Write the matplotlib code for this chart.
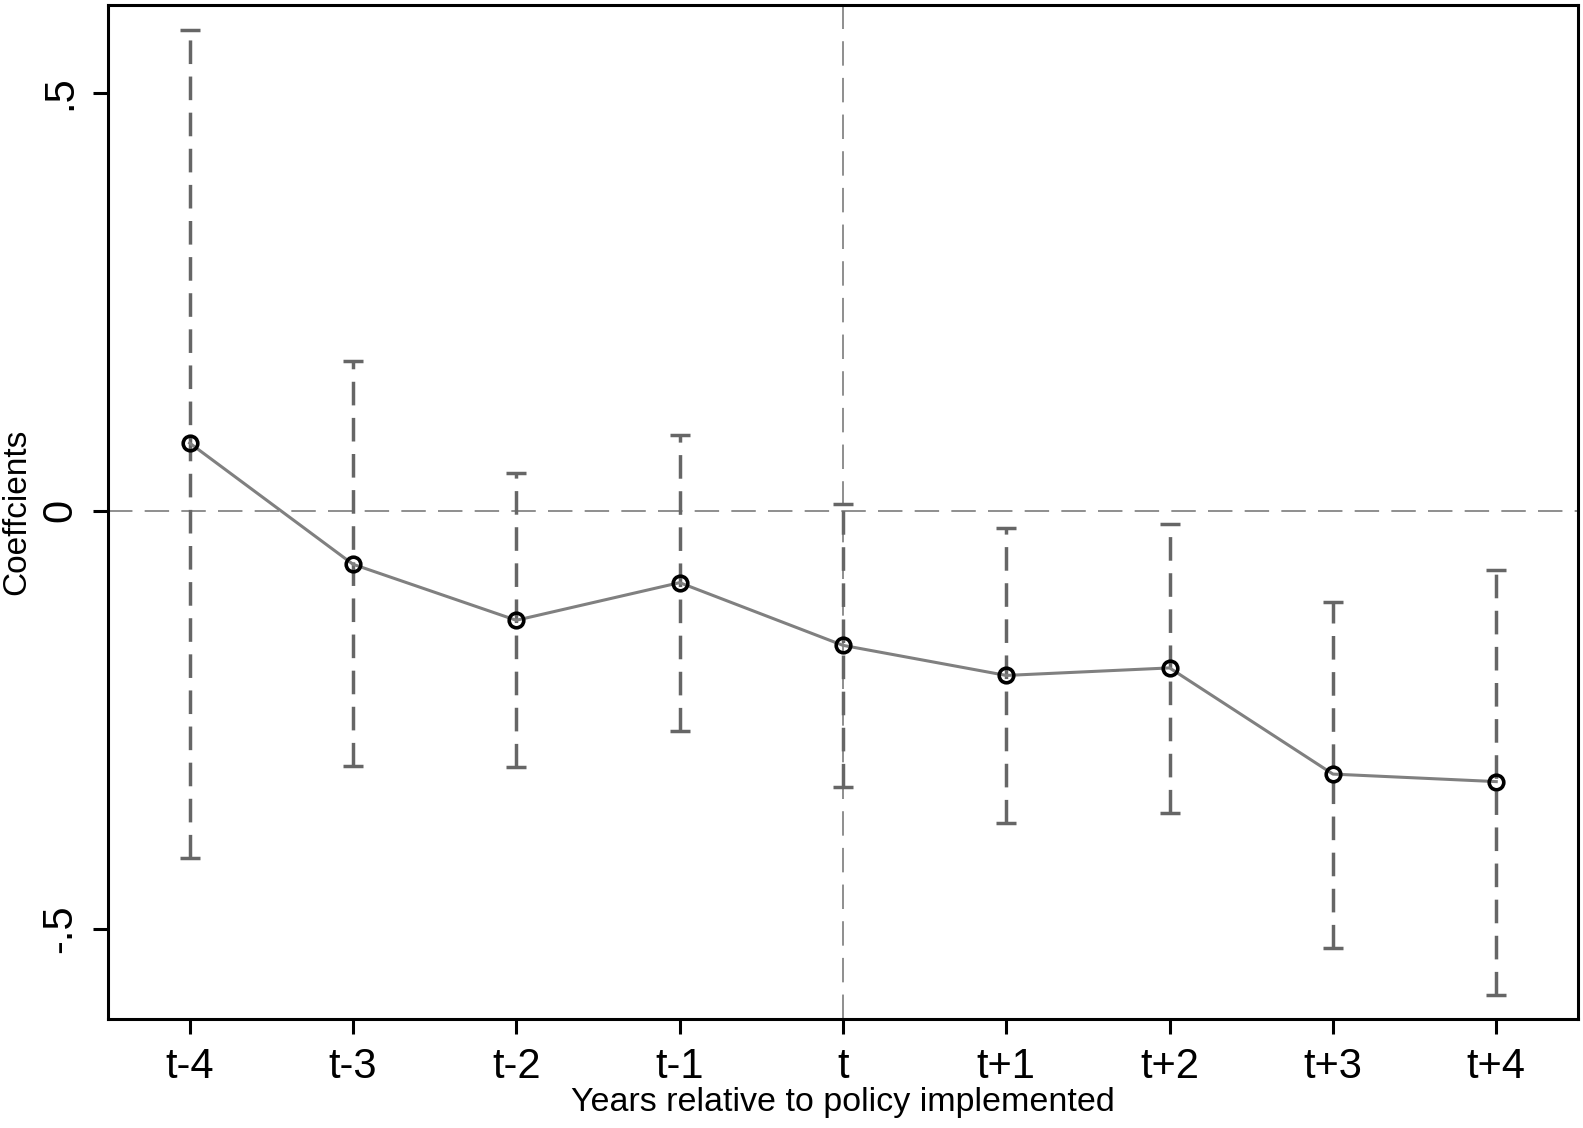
import matplotlib
matplotlib.use("Agg")
import matplotlib.pyplot as plt
import numpy as np

plt.rcParams['font.family'] = ['Liberation Sans', 'DejaVu Sans']

periods = ["t-4", "t-3", "t-2", "t-1", "t", "t+1", "t+2", "t+3", "t+4"]
rel_year = [-4, -3, -2, -1, 0, 1, 2, 3, 4]
coef = [0.081, -0.064, -0.131, -0.086, -0.161, -0.197, -0.188, -0.315, -0.324]
ci_upper = [0.575, 0.179, 0.045, 0.091, 0.008, -0.021, -0.016, -0.109, -0.071]
ci_lower = [-0.415, -0.305, -0.306, -0.263, -0.330, -0.374, -0.361, -0.523, -0.579]
yticks = [-0.5, 0, 0.5]
yticklabels = ["-.5", "0", ".5"]

fig = plt.figure(figsize=(15.83, 11.28), dpi=100)
ax = fig.add_axes([0.0682, 0.0966, 0.9286, 0.899])

# reference lines
ax.axhline(0, color="#707070", lw=1.1, linestyle=(0, (16, 8)), zorder=1)
ax.axvline(0, color="#707070", lw=1.1, linestyle=(0, (16, 8)), zorder=1)

x = np.array(rel_year)
c = np.array(coef)
lo = np.array(ci_lower)
hi = np.array(ci_upper)

eb = ax.errorbar(x, c, yerr=[c - lo, hi - c], fmt="none", ecolor="#666666",
                 elinewidth=2.5, capsize=7, capthick=2.5, zorder=2)
for col in eb[2]:
    col.set_linestyle((0, (6.8, 3.6)))

ax.plot(x, c, color="#808080", lw=2.2, zorder=3)
ax.plot(x, c, linestyle="none", marker="o", markersize=10.5, markerfacecolor="none",
        markeredgecolor="black", markeredgewidth=2.6, zorder=4)

ax.set_xlim(-4.5, 4.5)
ax.set_ylim(-0.608, 0.605)
ax.set_xticks(rel_year)
ax.set_xticklabels(periods, fontsize=30)
ax.set_yticks(yticks)
ax.set_yticklabels(yticklabels, fontsize=30, rotation=90, va="center")

for s in ax.spines.values():
    s.set_linewidth(2.2)
ax.tick_params(axis="both", length=11, width=2.2, direction="out", pad=9)

ax.set_xlabel("Years relative to policy implemented", fontsize=24.5, labelpad=0)
ax.set_ylabel("Coeffcients", fontsize=24, labelpad=6)

fig.savefig("out.png", dpi=100)
